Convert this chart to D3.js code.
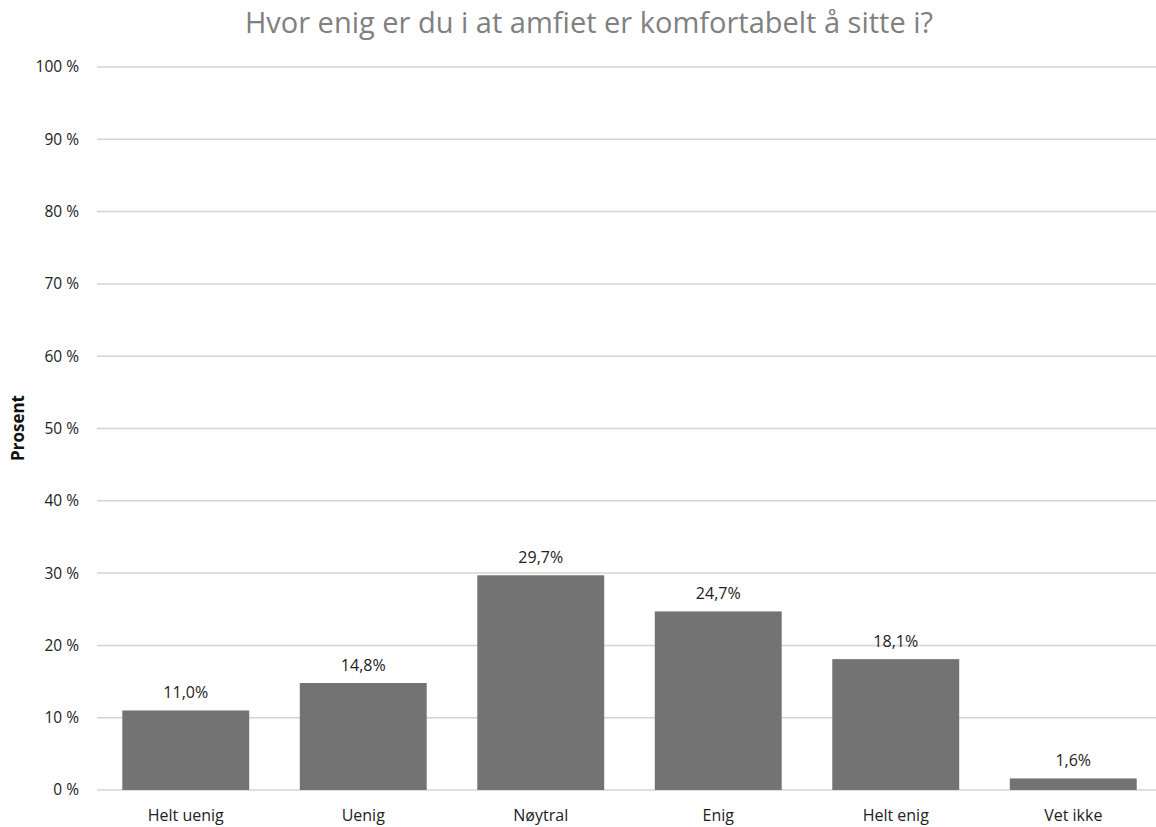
<!DOCTYPE html>
<html>
<head>
<meta charset="utf-8">
<script src="https://cdn.jsdelivr.net/npm/d3@7"></script>
<style>
  body { margin: 0; background: #fff; }
  svg { display: block; font-family: "Open Sans", Lato, sans-serif; }
</style>
</head>
<body>
<div id="plot"></div>
<script>
const title = "Hvor enig er du i at amfiet er komfortabelt å sitte i?";
const categories = ["Helt uenig", "Uenig", "Nøytral", "Enig", "Helt enig", "Vet ikke"];
const values = [11.0, 14.8, 29.7, 24.7, 18.1, 1.6];
const yTicks = [0, 10, 20, 30, 40, 50, 60, 70, 80, 90, 100];

const width = 1156, height = 827;

const svg = d3.select("#plot")
  .append("svg")
  .attr("width", width)
  .attr("height", height);

// plot runs a bit past the right edge, like the source image
const x = d3.scaleBand()
  .domain(categories)
  .range([97, 1162])
  .paddingInner(0.285)
  .paddingOuter(0.1425);

const y = d3.scaleLinear()
  .domain([0, 100])
  .range([790, 67]);

// gridlines
svg.append("g")
  .selectAll("line")
  .data(yTicks)
  .enter().append("line")
  .attr("x1", 97)
  .attr("x2", width)
  .attr("y1", d => y(d))
  .attr("y2", d => y(d))
  .attr("stroke", "#d4d4d4")
  .attr("stroke-width", 1.5);

// y axis labels
svg.append("g")
  .selectAll("text")
  .data(yTicks)
  .enter().append("text")
  .attr("x", 79)
  .attr("y", d => y(d))
  .attr("dy", "0.35em")
  .attr("text-anchor", "end")
  .attr("font-size", 15.5)
  .attr("fill", "#222")
  .text(d => d + " %");

// bars
svg.append("g")
  .selectAll("rect")
  .data(values)
  .enter().append("rect")
  .attr("x", (d, i) => x(categories[i]))
  .attr("y", d => y(d))
  .attr("width", x.bandwidth())
  .attr("height", d => y(0) - y(d))
  .attr("fill", "#737373");

// value labels
svg.append("g")
  .selectAll("text")
  .data(values)
  .enter().append("text")
  .attr("x", (d, i) => x(categories[i]) + x.bandwidth() / 2)
  .attr("y", d => y(d) - 12)
  .attr("text-anchor", "middle")
  .attr("font-size", 16)
  .attr("fill", "#222")
  .text(d => d.toFixed(1).replace(".", ",") + "%");

// category labels
svg.append("g")
  .selectAll("text")
  .data(categories)
  .enter().append("text")
  .attr("x", d => x(d) + x.bandwidth() / 2)
  .attr("y", 821)
  .attr("text-anchor", "middle")
  .attr("font-size", 16)
  .attr("fill", "#222")
  .text(d => d);

// y axis title
svg.append("text")
  .attr("transform", "translate(24,428) rotate(-90)")
  .attr("text-anchor", "middle")
  .attr("font-size", 17)
  .attr("font-weight", "bold")
  .attr("fill", "#111")
  .text("Prosent");

// chart title
svg.append("text")
  .attr("x", 589)
  .attr("y", 33)
  .attr("text-anchor", "middle")
  .attr("font-size", 29)
  .attr("fill", "#808080")
  .text(title);
</script>
</body>
</html>
